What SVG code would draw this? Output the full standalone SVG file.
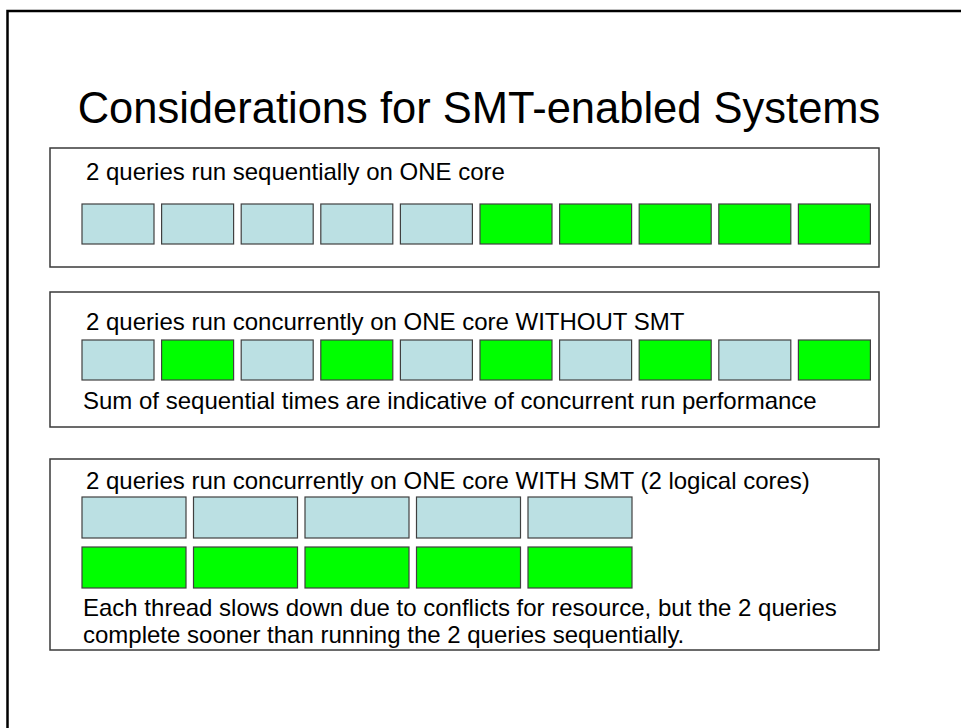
<svg xmlns="http://www.w3.org/2000/svg" width="961" height="728" viewBox="0 0 961 728">
  <style>
    .frame { fill: none; stroke: #000; stroke-width: 2.5; }
    .panel { fill: #fff; stroke: #3a3a3a; stroke-width: 1.5; }
    .q1 { fill: #bbe0e3; stroke: #404040; stroke-width: 1.2; }
    .q2 { fill: #00ff00; stroke: #404040; stroke-width: 1.2; }
    .title { font-family: "Liberation Sans", Arial, sans-serif; font-size: 43.5px; fill: #000; }
    .label { font-family: "Liberation Sans", Arial, sans-serif; font-size: 24px; fill: #000; }
  </style>
  <defs>
    <rect id="slot" width="72" height="40"/>
    <rect id="wide" width="104" height="41"/>
  </defs>

  <rect width="961" height="728" fill="#fff"/>
  <!-- slide frame -->
  <path class="frame" d="M7.5,728 V11 H961"/>

  <g id="title">
    <text class="title" x="479" y="123" text-anchor="middle">Considerations for SMT-enabled Systems</text>
  </g>

  <!-- sequential execution -->
  <g id="panel-sequential">
    <rect class="panel" x="50" y="148" width="829" height="119"/>
    <text class="label" x="86" y="180">2 queries run sequentially on ONE core</text>
    <use href="#slot" class="q1" x="82" y="204"/>
    <use href="#slot" class="q1" x="161.6" y="204"/>
    <use href="#slot" class="q1" x="241.2" y="204"/>
    <use href="#slot" class="q1" x="320.8" y="204"/>
    <use href="#slot" class="q1" x="400.4" y="204"/>
    <use href="#slot" class="q2" x="480" y="204"/>
    <use href="#slot" class="q2" x="559.6" y="204"/>
    <use href="#slot" class="q2" x="639.2" y="204"/>
    <use href="#slot" class="q2" x="718.8" y="204"/>
    <use href="#slot" class="q2" x="798.4" y="204"/>
  </g>

  <!-- interleaved execution without SMT -->
  <g id="panel-no-smt">
    <rect class="panel" x="50" y="292" width="829" height="135"/>
    <text class="label" x="86" y="330">2 queries run concurrently on ONE core WITHOUT SMT</text>
    <use href="#slot" class="q1" x="82" y="340"/>
    <use href="#slot" class="q2" x="161.6" y="340"/>
    <use href="#slot" class="q1" x="241.2" y="340"/>
    <use href="#slot" class="q2" x="320.8" y="340"/>
    <use href="#slot" class="q1" x="400.4" y="340"/>
    <use href="#slot" class="q2" x="480" y="340"/>
    <use href="#slot" class="q1" x="559.6" y="340"/>
    <use href="#slot" class="q2" x="639.2" y="340"/>
    <use href="#slot" class="q1" x="718.8" y="340"/>
    <use href="#slot" class="q2" x="798.4" y="340"/>
    <text class="label" x="83" y="409">Sum of sequential times are indicative of concurrent run performance</text>
  </g>

  <!-- parallel execution with SMT -->
  <g id="panel-smt">
    <rect class="panel" x="50" y="459" width="829" height="191"/>
    <text class="label" x="86" y="489">2 queries run concurrently on ONE core WITH SMT (2 logical cores)</text>
    <use href="#wide" class="q1" x="82" y="497"/>
    <use href="#wide" class="q1" x="193.5" y="497"/>
    <use href="#wide" class="q1" x="305" y="497"/>
    <use href="#wide" class="q1" x="416.5" y="497"/>
    <use href="#wide" class="q1" x="528" y="497"/>
    <use href="#wide" class="q2" x="82" y="547"/>
    <use href="#wide" class="q2" x="193.5" y="547"/>
    <use href="#wide" class="q2" x="305" y="547"/>
    <use href="#wide" class="q2" x="416.5" y="547"/>
    <use href="#wide" class="q2" x="528" y="547"/>
    <text class="label" x="83" y="616">Each thread slows down due to conflicts for resource, but the 2 queries</text>
    <text class="label" x="83" y="643">complete sooner than running the 2 queries sequentially.</text>
  </g>
</svg>
